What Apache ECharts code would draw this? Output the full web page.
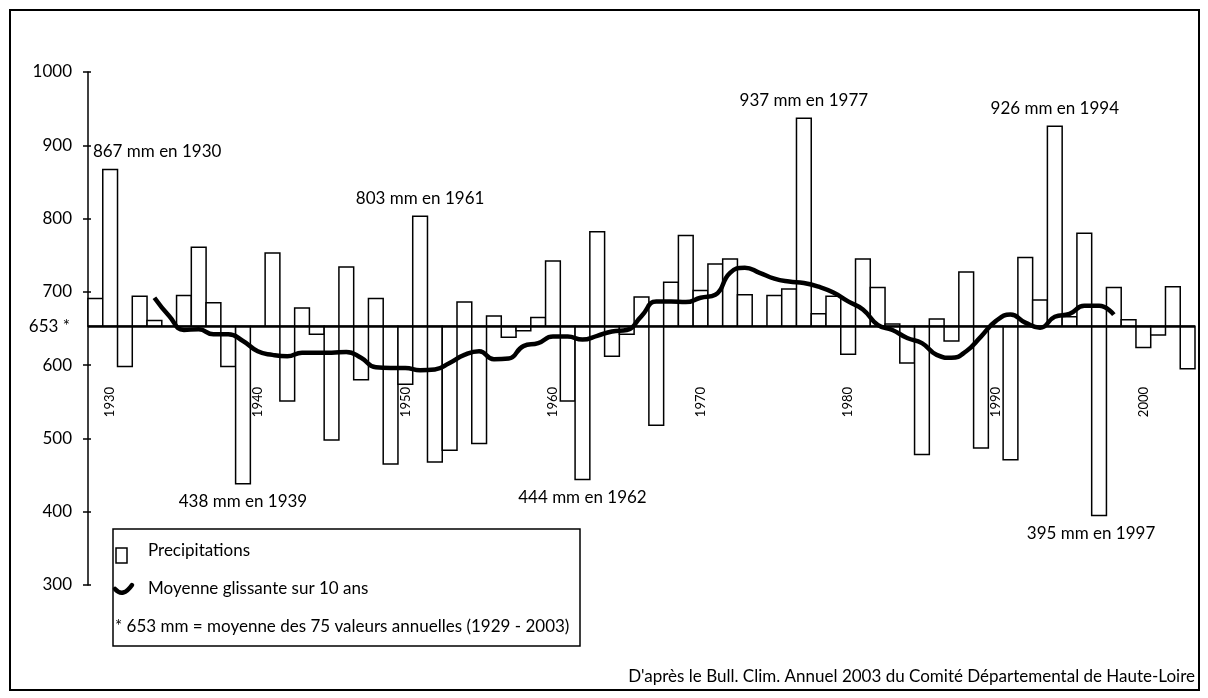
<!DOCTYPE html>
<html>
<head>
<meta charset="utf-8">
<script src="https://cdn.jsdelivr.net/npm/echarts@6/dist/echarts.min.js"></script>
<style>
  html, body { margin: 0; padding: 0; background: #fff; }
  #chart { width: 1208px; height: 698px; }
</style>
</head>
<body>
<div id="chart"></div>
<script>
// annual precipitation (mm), 1929 - 2003
const years = [
  1929, 1930, 1931, 1932, 1933, 1934, 1935, 1936, 1937, 1938,
  1939, 1940, 1941, 1942, 1943, 1944, 1945, 1946, 1947, 1948,
  1949, 1950, 1951, 1952, 1953, 1954, 1955, 1956, 1957, 1958,
  1959, 1960, 1961, 1962, 1963, 1964, 1965, 1966, 1967, 1968,
  1969, 1970, 1971, 1972, 1973, 1974, 1975, 1976, 1977, 1978,
  1979, 1980, 1981, 1982, 1983, 1984, 1985, 1986, 1987, 1988,
  1989, 1990, 1991, 1992, 1993, 1994, 1995, 1996, 1997, 1998,
  1999, 2000, 2001, 2002, 2003
]
const precipitation = [
  691, 867, 598, 694, 661, 653, 695, 761, 685, 598,
  438, 653, 753, 551, 678, 642, 498, 734, 580, 691,
  465, 574, 803, 468, 484, 686, 493, 667, 638, 647,
  665, 742, 551, 444, 782, 612, 642, 693, 518, 713,
  777, 702, 738, 745, 696, 653, 695, 704, 937, 670,
  694, 615, 745, 706, 656, 603, 478, 663, 633, 727,
  487, 653, 471, 747, 689, 926, 666, 780, 395, 706,
  662, 624, 641, 707, 595
]
// 10 year moving average, 1933 - 1998
const movingAverage = [
  null, null, null, null, 692, 667, 648, 649, 642, 642,
  633, 619, 614, 612, 617, 617, 617, 618, 610, 597,
  596, 596, 593, 594, 603, 614, 619, 608, 609, 626,
  630, 639, 639, 635, 640, 646, 648, 667, 687, 687,
  686, 692, 696, 726, 733, 726, 718, 714, 712, 707,
  699, 687, 676, 655, 648, 637, 630, 614, 610, 619,
  639, 660, 669, 658, 651, 666, 670, 681, 681, 669,
  null, null, null, null, null
]
const MEAN = 653
const yTicks = [300, 400, 500, 600, 700, 800, 900, 1000]

// annotated extremes: bar year and printed text
const annotYears = [1930, 1939, 1951, 1962, 1977, 1994, 1997]
const annotTexts = [
  '867 mm en 1930', '438 mm en 1939', '803 mm en 1961', '444 mm en 1962',
  '937 mm en 1977', '926 mm en 1994', '395 mm en 1997'
]

const FONT = 'Lato, "Open Sans", sans-serif'
const FS = 17

const chart = echarts.init(document.getElementById('chart'))

const barData = precipitation.map((v, i) => [i, v])
const annotData = annotYears.map((y, k) => {
  const i = years.indexOf(y)
  const v = precipitation[i]
  const up = v > MEAN
  return {
    value: [i, v],
    label: {
      formatter: annotTexts[k],
      offset: [y === 1930 ? 47 : (y === 1997 ? -8 : 0), up ? -18 : 18]
    }
  }
})

chart.setOption({
  animation: false,
  textStyle: { fontFamily: FONT },
  grid: { left: 88, right: 13, top: 72, bottom: 113, containLabel: false },
  xAxis: {
    type: 'category',
    data: years.map(String),
    boundaryGap: true,
    offset: -206,
    axisLine: { show: false },
    axisTick: { show: false },
    splitLine: { show: false },
    axisLabel: {
      rotate: 90,
      margin: 8,
      fontSize: 13,
      color: '#000',
      fontFamily: FONT,
      interval: (i, v) => Number(v) % 10 === 0
    }
  },
  yAxis: [{
    type: 'value',
    min: yTicks[0],
    max: yTicks[yTicks.length - 1],
    interval: 100,
    axisLine: { show: true, lineStyle: { color: '#000', width: 1.5 } },
    axisTick: { show: true, length: 5, lineStyle: { color: '#000', width: 1.5 } },
    splitLine: { show: false },
    axisLabel: { fontSize: FS, color: '#000', margin: 16, fontFamily: FONT,
      formatter: v => String(v) }
  }, {
    type: 'value',
    min: yTicks[0],
    max: yTicks[yTicks.length - 1],
    interval: 100,
    position: 'left',
    offset: 0,
    axisLine: { show: false },
    axisTick: { show: true, inside: true, length: 3, lineStyle: { color: '#000', width: 1.5 } },
    splitLine: { show: false },
    axisLabel: { show: false }
  }],
  series: [{
    name: 'Precipitations',
    type: 'custom',
    data: barData,
    encode: { x: 0, y: 1 },
    z: 2,
    renderItem: function (params, api) {
      const x = api.value(0)
      const top = api.coord([x, api.value(1)])
      const base = api.coord([x, MEAN])
      const w = api.size([1, 0])[0]
      return {
        type: 'rect',
        shape: {
          x: top[0] - w / 2,
          y: Math.min(top[1], base[1]),
          width: w,
          height: Math.abs(top[1] - base[1])
        },
        style: { fill: '#fff', stroke: '#000', lineWidth: 1.5 }
      }
    }
  }, {
    name: 'Moyenne glissante sur 10 ans',
    type: 'line',
    data: movingAverage,
    smooth: 0.5,
    connectNulls: false,
    symbol: 'none',
    z: 4,
    lineStyle: { color: '#000', width: 4.5 },
    markLine: {
      silent: true,
      symbol: 'none',
      z: 3,
      lineStyle: { color: '#000', width: 2.5, type: 'solid' },
      label: {
        show: true,
        position: 'start',
        formatter: '653 *',
        distance: 18,
        fontSize: FS,
        color: '#000',
        fontFamily: FONT
      },
      data: [{ yAxis: MEAN }]
    }
  }, {
    name: 'annotations',
    type: 'scatter',
    data: annotData,
    symbol: 'rect',
    symbolSize: 1,
    itemStyle: { color: 'transparent' },
    z: 5,
    label: {
      show: true,
      position: 'inside',
      fontSize: FS,
      color: '#000',
      opacity: 1,
      textBorderWidth: 0,
      fontFamily: FONT
    }
  }],
  graphic: [
    // outer frame
    { type: 'rect', shape: { x: 10, y: 10, width: 1189, height: 680 },
      style: { fill: 'none', stroke: '#000', lineWidth: 2 }, silent: true },
    // legend box
    { type: 'rect', shape: { x: 113, y: 529, width: 467, height: 117 },
      style: { fill: '#fff', stroke: '#000', lineWidth: 1.5 }, z: 10 },
    { type: 'rect', shape: { x: 116, y: 548, width: 11, height: 15 },
      style: { fill: '#fff', stroke: '#000', lineWidth: 1.5 }, z: 11 },
    { type: 'text', x: 148, y: 551, z: 11,
      style: { text: 'Precipitations', font: FS + 'px ' + FONT, fill: '#000', verticalAlign: 'middle' } },
    { type: 'bezierCurve', z: 11,
      shape: { x1: 115, y1: 589, x2: 132, y2: 585, cpx1: 123, cpy1: 598 },
      style: { fill: 'none', stroke: '#000', lineWidth: 4.5, lineCap: 'round' } },
    { type: 'text', x: 148, y: 589, z: 11,
      style: { text: 'Moyenne glissante sur 10 ans', font: FS + 'px ' + FONT, fill: '#000', verticalAlign: 'middle' } },
    { type: 'text', x: 115, y: 627, z: 11,
      style: { text: '* 653 mm = moyenne des 75 valeurs annuelles (1929 - 2003)', font: FS + 'px ' + FONT, fill: '#000', verticalAlign: 'middle' } },
    // source
    { type: 'text', x: 1195, y: 677,
      style: { text: "D'apr\u00e8s le Bull. Clim. Annuel 2003 du Comit\u00e9 D\u00e9partemental de Haute-Loire",
        font: FS + 'px ' + FONT, fill: '#000', align: 'right', verticalAlign: 'middle' } }
  ]
})
</script>
</body>
</html>
